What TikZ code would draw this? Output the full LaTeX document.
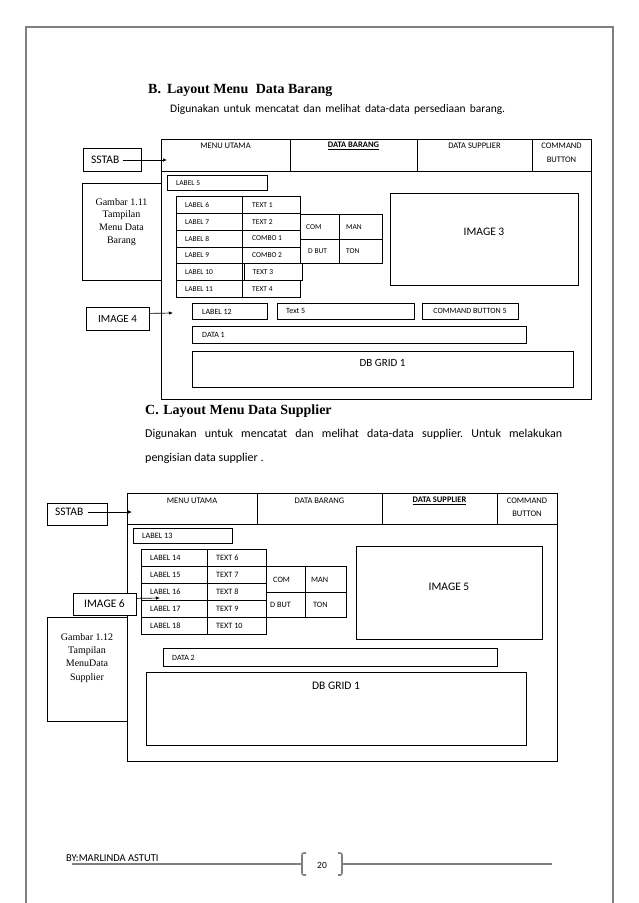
\documentclass[tikz,border=0pt]{standalone}
\usepackage{fontspec}
\setmainfont{Carlito}
\newfontfamily\serifA{Liberation Serif}
\usetikzlibrary{arrows.meta}
\frenchspacing
\newcommand\fs[1]{\fontsize{#1}{#1}\selectfont}
\tikzset{
  box/.style={draw=black, line width=0.8pt, inner sep=0pt},
  lbl/.style={anchor=west, inner sep=0pt},
  ctr/.style={inner sep=0pt},
  arr/.style={-{Latex[length=4pt,width=3.5pt]}, line width=0.7pt},
  foot/.style={draw=gray, line width=1.1pt},
}
% box: [opts]{name}{x1}{y1}{x2}{y2}
\newcommand\bx[6][]{\pgfmathsetmacro\bw{#5-#3}\pgfmathsetmacro\bh{#6-#4}%
  \node[box, minimum width=\bw pt, minimum height=\bh pt, anchor=north west, #1] (#2) at (#3,#4) {};}
% box with left text: [font]{name}{x1}{y1}{x2}{y2}{pad}{text}
\newcommand\bxl[8][\fs{7.5}]{\bx{#2}{#3}{#4}{#5}{#6}%
  \node[lbl, font=#1] (#2-t) at ([xshift=#7pt]#2.west) {#8};}
\begin{document}
\begin{tikzpicture}[x=1pt, y=-1pt]
\useasboundingbox (0,0) rectangle (638,903);
\fill[white] (0,0) rectangle (638,903);
% page border
\draw[gray, line width=1.8pt] (26,903) -- (26,27) -- (613,27) -- (613,903);

% ---------- Section B ----------
\node[anchor=base west, inner sep=0pt, font=\serifA\bfseries\fs{14}] (hB) at (148,93) {B.\hspace{6pt}Layout Menu\hspace{4pt} Data Barang};
\node[anchor=base west, inner sep=0pt, font=\fs{11.5}] (sB) at (170,112) {\makebox[335pt][s]{Digunakan untuk mencatat dan melihat data-data persediaan barang.}};

% frame 1
\bx{f1}{161}{139}{591}{399}
\bx{h1a}{161}{139}{290}{171}
\bx{h1b}{290}{139}{417}{171}
\bx{h1c}{417}{139}{532}{171}
\bx{h1d}{532}{139}{591}{171}
\node[ctr, font=\fs{8.5}] (h1a-t) at (225.5,146) {MENU UTAMA};
\node[ctr, font=\fs{8.5}\bfseries] (h1b-t) at (353.5,146) {\underline{DATA BARANG}};
\node[ctr, font=\fs{8.5}] (h1c-t) at (474.5,146) {DATA SUPPLIER};
\node[ctr, font=\fs{8.5}] (h1d-t) at (561.5,146) {COMMAND};
\node[ctr, font=\fs{8.5}] (h1d-u) at (561.5,160) {BUTTON};

% SSTAB 1
\bx{ss1}{83}{148}{141}{171}
\node[lbl, font=\fs{11.5}] (ss1-t) at (91,160) {SSTAB};
\coordinate (ss1-e) at (167,160);
\draw[arr] ([xshift=3pt]ss1-t.east) -- (ss1-e);

% Gambar 1.11
\bx{g1}{82}{183}{161}{280}
\node[anchor=north, inner sep=0pt, align=center, font=\serifA\fontsize{10}{12.7}\selectfont] (g1-t) at (121.5,198) {Gambar 1.11\\Tampilan\\Menu Data\\Barang};

% LABEL 5 and table
\bxl{l5}{167}{175}{267}{190}{9}{LABEL 5}
\bxl{a1}{176}{196}{242}{212.8}{9}{LABEL 6}
\bxl{b1}{242}{196}{300}{212.8}{10}{TEXT 1}
\bxl{a2}{176}{212.8}{242}{229.7}{9}{LABEL 7}
\bxl{b2}{242}{212.8}{300}{229.7}{10}{TEXT 2}
\bxl{a3}{176}{229.7}{242}{246.5}{9}{LABEL 8}
\bxl{b3}{242}{229.7}{300}{246.5}{10}{COMBO 1}
\bxl{a4}{176}{246.5}{242}{263.3}{9}{LABEL 9}
\bxl{b4}{242}{246.5}{300}{263.3}{10}{COMBO 2}
\bxl{a5}{176}{263.3}{242}{280.2}{9}{LABEL 10}
\bxl{b5}{243.5}{263.3}{301.5}{280.2}{9}{TEXT 3}
\bxl{a6}{176}{280.2}{242}{297}{9}{LABEL 11}
\bxl{b6}{242}{280.2}{300}{297}{10}{TEXT 4}

% COM / MAN
\bxl{c1}{300}{214}{339}{239}{6}{COM}
\bxl{c2}{339}{214}{382}{239}{7}{MAN}
\bxl{c3}{300}{239}{339}{263}{8}{D BUT}
\bxl{c4}{339}{239}{382}{263}{7}{TON}

% IMAGE 3
\bx{im3}{390}{193}{578}{285}
\node[ctr, font=\fs{11.5}] (im3-t) at (484,232) {IMAGE 3};

% IMAGE 4
\bx{im4}{86}{307}{149}{330}
\node[ctr, font=\fs{11}] (im4-t) at (117.5,318.5) {IMAGE 4};
\coordinate (im4-e) at (173,313);
\draw[arr] ([yshift=5.5pt]im4.east) -- (im4-e);

% lower row
\bxl[\fs{8}]{l12}{192}{303}{267}{319}{10}{LABEL 12}
\bxl[\fs{8}]{t5}{277}{303}{414}{319}{9}{Text 5}
\bx{cb5}{422}{303}{518}{319}
\node[ctr, font=\fs{8}] (cb5-t) at (470,311) {COMMAND BUTTON 5};
\bxl[\fs{8}]{d1}{192}{326}{526}{343}{10}{DATA 1}
\bx{db1}{192}{351}{573}{387}
\node[ctr, font=\fs{11}] (db1-t) at (382.5,363) {DB GRID 1};

% ---------- Section C ----------
\node[anchor=base west, inner sep=0pt, font=\serifA\bfseries\fs{14}] (hC) at (145,414) {C.\hspace{1pt} Layout Menu Data Supplier};
\node[anchor=base west, inner sep=0pt, font=\fs{12}] (pC1) at (145,437) {\makebox[417pt][s]{Digunakan untuk mencatat dan melihat data-data supplier. Untuk melakukan}};
\node[anchor=base west, inner sep=0pt, font=\fs{12}] (pC2) at (145,461) {pengisian data supplier .};

% frame 2
\bx{f2}{127}{493}{557}{761}
\bx{h2a}{127}{493}{257}{524}
\bx{h2b}{257}{493}{382}{524}
\bx{h2c}{382}{493}{497}{524}
\bx{h2d}{497}{493}{557}{524}
\node[ctr, font=\fs{8.5}] (h2a-t) at (192,501) {MENU UTAMA};
\node[ctr, font=\fs{8.5}] (h2b-t) at (319.5,501) {DATA BARANG};
\node[ctr, font=\fs{8.5}\bfseries] (h2c-t) at (439.5,501) {\underline{DATA SUPPLIER}};
\node[ctr, font=\fs{8.5}] (h2d-t) at (527,501) {COMMAND};
\node[ctr, font=\fs{8.5}] (h2d-u) at (527,514) {BUTTON};

% SSTAB 2
\bx{ss2}{47}{503}{107}{525}
\node[lbl, font=\fs{11.5}] (ss2-t) at (55,512) {SSTAB};
\coordinate (ss2-e) at (132,512);
\draw[arr] ([xshift=4pt]ss2-t.east) -- (ss2-e);

% LABEL 13 and table
\bxl[\fs{8.2}]{l13}{133}{528}{232}{543}{9}{LABEL 13}
\bxl[\fs{8.2}]{p1}{141}{549}{207}{566}{9}{LABEL 14}
\bxl[\fs{8.2}]{q1}{207}{549}{266}{566}{9}{TEXT 6}
\bxl[\fs{8.2}]{p2}{141}{566}{207}{583}{9}{LABEL 15}
\bxl[\fs{8.2}]{q2}{207}{566}{266}{583}{9}{TEXT 7}
\bxl[\fs{8.2}]{p3}{141}{583}{207}{600}{9}{LABEL 16}
\bxl[\fs{8.2}]{q3}{207}{583}{266}{600}{9}{TEXT 8}
\bxl[\fs{8.2}]{p4}{141}{600}{207}{617}{9}{LABEL 17}
\bxl[\fs{8.2}]{q4}{207}{600}{266}{617}{9}{TEXT 9}
\bxl[\fs{8.2}]{p5}{141}{617}{207}{634}{9}{LABEL 18}
\bxl[\fs{8.2}]{q5}{207}{617}{266}{634}{9}{TEXT 10}

% COM / MAN 2
\bxl[\fs{8.2}]{e1}{266}{566}{305}{592}{7}{COM}
\bxl[\fs{8.2}]{e2}{305}{566}{346}{592}{6}{MAN}
\bxl[\fs{8.2}]{e3}{266}{592}{305}{617}{4}{D BUT}
\bxl[\fs{8.2}]{e4}{305}{592}{346}{617}{8}{TON}

% IMAGE 5
\bx{im5}{356}{546}{542}{639}
\node[ctr, font=\fs{11.5}] (im5-t) at (449,587) {IMAGE 5};

% Gambar 1.12
\bx{g2}{47}{617}{127}{721}
\node[anchor=north, inner sep=0pt, align=center, font=\serifA\fontsize{10}{13.3}\selectfont] (g2-t) at (87,633) {Gambar 1.12\\Tampilan\\MenuData\\Supplier};

% IMAGE 6
\bx[fill=white]{im6}{73}{593}{136}{615}
\node[ctr, font=\fs{11.5}] (im6-t) at (104.5,604) {IMAGE 6};
\coordinate (im6-e) at (160,598);
\draw[arr] ([yshift=6pt]im6.east) -- (im6-e);

% DATA 2 / DB GRID
\bxl[\fs{8}]{d2}{163}{648}{497}{666}{9}{DATA 2}
\bx{db2}{146}{672}{526}{745}
\node[ctr, font=\fs{11.5}] (db2-t) at (336,686) {DB GRID 1};

% ---------- footer ----------
\node[anchor=base west, inner sep=0pt, font=\fs{10.5}] (by) at (66,861) {BY:MARLINDA ASTUTI};
\coordinate (fl) at (72,864);
\coordinate (lbk) at (302,864);
\coordinate (rbk) at (342,864);
\coordinate (fr) at (552,864);
\draw[foot] (fl) -- (lbk);
\draw[foot] (rbk) -- (fr);
\draw[gray, line width=1.6pt] (306,853) .. controls (302,853) .. (302,857) -- (302,871) .. controls (302,875) .. (306,875);
\draw[gray, line width=1.6pt] (338,853) .. controls (342,853) .. (342,857) -- (342,871) .. controls (342,875) .. (338,875);
\node[ctr, font=\fs{9.5}] (pg) at (322,865) {20};
\end{tikzpicture}
\end{document}
